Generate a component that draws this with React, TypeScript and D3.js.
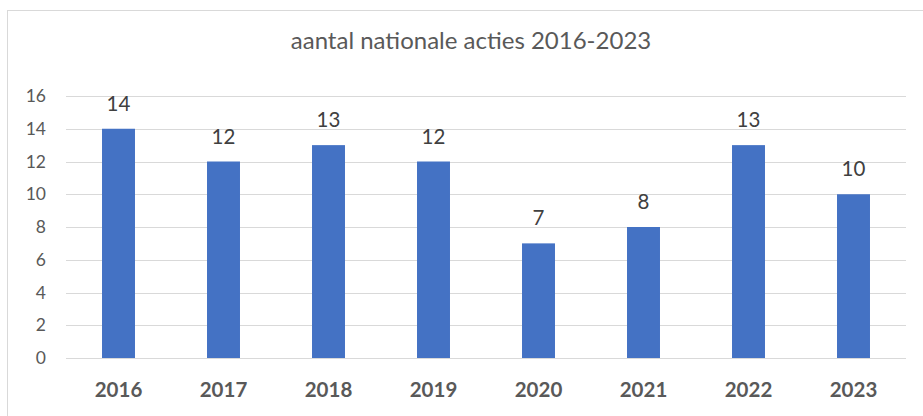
import { useEffect, useRef } from 'react';
import * as d3 from 'd3';

const years = ['2016', '2017', '2018', '2019', '2020', '2021', '2022', '2023'];
const acties = [14, 12, 13, 12, 7, 8, 13, 10];
const yTicks = [0, 2, 4, 6, 8, 10, 12, 14, 16];
const title = 'aantal nationale acties 2016-2023';

const W = 923;
const H = 416;
const FONT = 'Lato, "Open Sans", sans-serif';

const App = () => {
  const ref = useRef<SVGSVGElement>(null);

  useEffect(() => {
    const svg = d3.select(ref.current);
    svg.selectAll('*').remove();

    // chart frame (runs off the right and bottom edge)
    svg.append('rect')
      .attr('x', 7.5).attr('y', 10.5)
      .attr('width', W + 20).attr('height', H + 20)
      .attr('fill', '#fff').attr('stroke', '#d9d9d9');

    const x = d3.scaleBand().domain(years).range([66, 906]).padding(0);
    const y = d3.scaleLinear().domain([0, 16]).range([358, 96]);
    const barW = x.bandwidth() * 0.314;

    svg.append('text')
      .attr('x', 471).attr('y', 49)
      .attr('text-anchor', 'middle')
      .attr('font-family', FONT).attr('font-size', 24)
      .attr('fill', '#595959')
      .text(title);

    // grid
    svg.append('g').selectAll('line')
      .data(yTicks).enter().append('line')
      .attr('x1', 66).attr('x2', 906)
      .attr('y1', (d) => Math.round(y(d)) + 0.5)
      .attr('y2', (d) => Math.round(y(d)) + 0.5)
      .attr('stroke', '#d9d9d9').attr('stroke-width', 1);

    svg.append('g').selectAll('text')
      .data(yTicks).enter().append('text')
      .attr('x', 46).attr('y', (d) => y(d) + 6)
      .attr('text-anchor', 'end')
      .attr('font-family', FONT).attr('font-size', 17.5)
      .attr('fill', '#595959')
      .text((d) => d);

    // bars
    svg.append('g').selectAll('rect')
      .data(acties).enter().append('rect')
      .attr('x', (d, i) => x(years[i])! + (x.bandwidth() - barW) / 2)
      .attr('y', (d) => y(d))
      .attr('width', barW)
      .attr('height', (d) => y(0) - y(d))
      .attr('fill', '#4472c4');

    // value labels
    svg.append('g').selectAll('text')
      .data(acties).enter().append('text')
      .attr('x', (d, i) => x(years[i])! + x.bandwidth() / 2)
      .attr('y', (d) => y(d) - 18)
      .attr('text-anchor', 'middle')
      .attr('font-family', FONT).attr('font-size', 20.5)
      .attr('fill', '#404040')
      .text((d) => d);

    // category labels
    svg.append('g').selectAll('text')
      .data(years).enter().append('text')
      .attr('x', (d) => x(d)! + x.bandwidth() / 2)
      .attr('y', 397)
      .attr('text-anchor', 'middle')
      .attr('font-family', FONT).attr('font-size', 20.5)
      .attr('font-weight', 'bold')
      .attr('fill', '#595959')
      .text((d) => d);
  }, []);

  return (
    <svg ref={ref} width={W} height={H}
      style={{ position: 'absolute', left: 0, top: 0, background: '#fff' }} />
  );
};

export default App;
